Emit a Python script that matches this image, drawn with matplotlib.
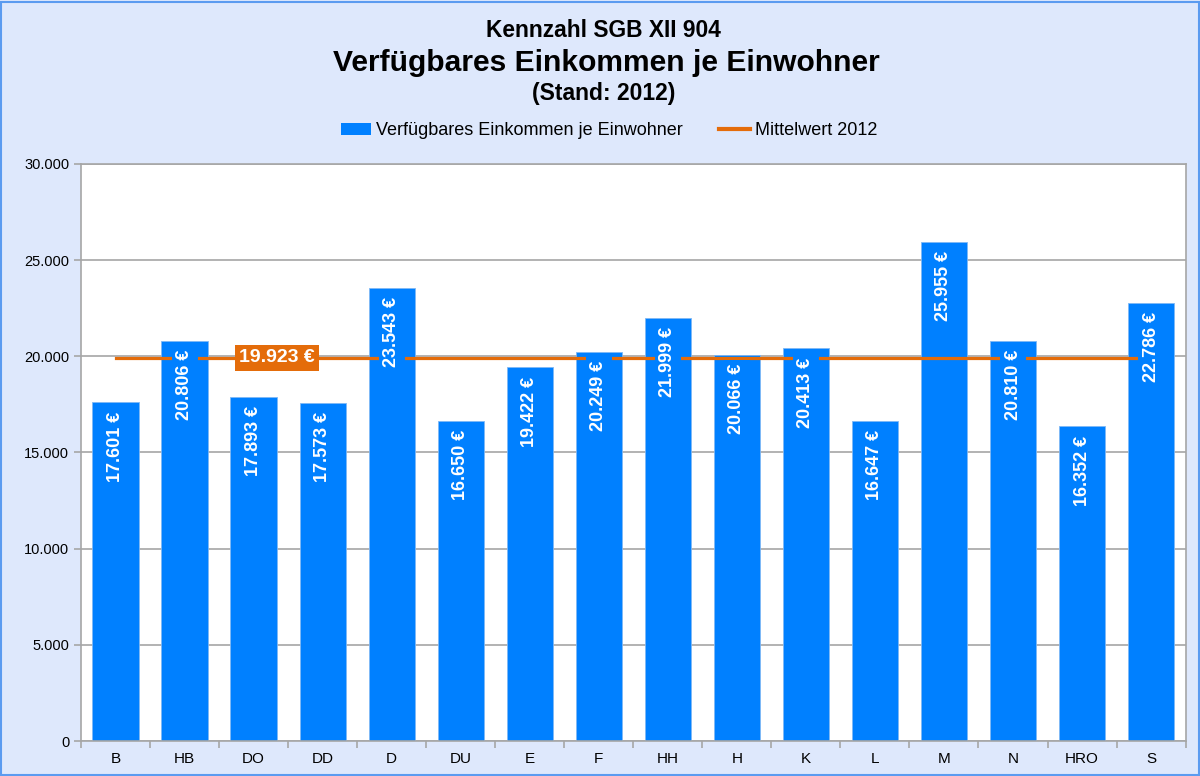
import matplotlib.pyplot as plt
from matplotlib.patches import Rectangle
from matplotlib.lines import Line2D
from matplotlib.ticker import FuncFormatter, FixedLocator
import numpy as np

plt.rcParams['font.family'] = ['Liberation Sans', 'DejaVu Sans']

# data
staedte = ["B", "HB", "DO", "DD", "D", "DU", "E", "F", "HH", "H", "K", "L", "M", "N", "HRO", "S"]
einkommen = [17601, 20806, 17893, 17573, 23543, 16650, 19422, 20249,
             21999, 20066, 20413, 16647, 25955, 20810, 16352, 22786]
mittelwert = 19923

blau = "#0080FF"
orange = "#E46C0A"
hintergrund = "#DEE8FC"


def de_zahl(v):
    return f"{v:,.0f}".replace(",", ".")


fig = plt.figure(figsize=(12, 7.76), dpi=100, facecolor=hintergrund)
fig.patches.append(Rectangle((0.001, 0.001), 0.998, 0.997, transform=fig.transFigure,
                             fill=False, edgecolor="#5B9BF0", linewidth=1.5))

ax = fig.add_axes([0.0675, 0.0451, 0.9205, 0.7436])
ax.set_facecolor("white")

x = np.arange(len(staedte))
ax.bar(x, einkommen, width=0.67, color=blau, edgecolor="#7FB8F5", linewidth=0.6, zorder=2)

# Mittelwert-Linie von erster bis letzter Kategorie
ax.plot([x[0], x[-1]], [mittelwert, mittelwert], color=orange, linewidth=2.3, zorder=3)

# Werte in den Balken
for xi, v in zip(x, einkommen):
    ax.annotate(f"{de_zahl(v)} €", (xi, v), xytext=(0, -6.5), textcoords="offset points",
                rotation=90, ha="center", va="top", color="white", fontsize=13,
                fontweight="bold", zorder=4,
                bbox=dict(boxstyle="square,pad=0.25", facecolor=blau, edgecolor="none"))

ax.text(2.34, mittelwert, f"{de_zahl(mittelwert)} €", ha="center", va="center",
        color="white", fontsize=14, fontweight="bold", zorder=5,
        bbox=dict(boxstyle="square,pad=0.22", facecolor=orange, edgecolor="none"))

ax.set_xlim(-0.5, len(staedte) - 0.5)
ax.set_ylim(0, 30000)
ax.set_yticks(np.arange(0, 30001, 5000))
ax.yaxis.set_major_formatter(FuncFormatter(lambda v, p: de_zahl(v)))
ax.grid(axis="y", color="#A6A6A6", linewidth=1.2, zorder=0)
ax.set_axisbelow(True)

ax.set_xticks(x)
ax.set_xticklabels(staedte)
ax.tick_params(axis="x", length=0, labelsize=11, pad=8)
ax.xaxis.set_minor_locator(FixedLocator(np.arange(-0.5, len(staedte), 1.0)))
ax.tick_params(axis="x", which="minor", length=5, color="#A6A6A6", width=1.2)
ax.tick_params(axis="y", length=5, color="#A6A6A6", width=1.2, labelsize=10.5)

for s in ax.spines.values():
    s.set_color("#A6A6A6")
    s.set_linewidth(1.2)

# Titel
fig.text(0.503, 0.961, "Kennzahl SGB XII 904", ha="center", va="center",
         fontsize=16.4, fontweight="bold")
fig.text(0.5055, 0.919, "Verfügbares Einkommen je Einwohner", ha="center", va="center",
         fontsize=21.6, fontweight="bold")
fig.text(0.503, 0.879, "(Stand: 2012)", ha="center", va="center",
         fontsize=16.5, fontweight="bold")

# Legende
handles = [Rectangle((0, 0), 1, 1, facecolor=blau),
           Line2D([0], [0], color=orange, linewidth=3)]
fig.legend(handles, ["Verfügbares Einkommen je Einwohner", "Mittelwert 2012"],
           loc="center", bbox_to_anchor=(0.5075, 0.8315), ncol=2, frameon=False,
           fontsize=13, handlelength=1.7, handleheight=0.6, handletextpad=0.28,
           columnspacing=2.0)

fig.savefig("out.png", dpi=100, facecolor=hintergrund)
